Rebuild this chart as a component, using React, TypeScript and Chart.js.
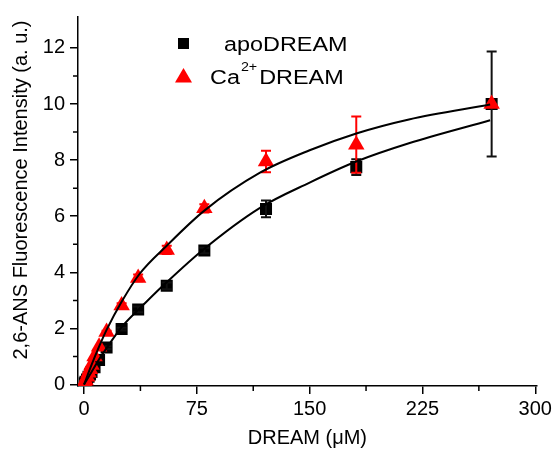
import React, { useEffect, useRef } from "react";
import { Chart, registerables } from "chart.js";

Chart.register(...registerables);

// ---- data ----
const concentrations = [0.5, 1, 2, 3, 4, 5, 7, 10, 15, 25, 36, 55, 80, 121, 181, 271];
const apoValues = [0.05, 0.1, 0.18, 0.28, 0.36, 0.45, 0.62, 0.88, 1.32, 1.98, 2.68, 3.52, 4.78, 6.26, 7.75, 10.0];
const apoErrors = [0, 0, 0, 0, 0, 0, 0, 0, 0.05, 0.05, 0.1, 0.12, 0.1, 0.3, 0.28, 1.87];
const caValues = [0.08, 0.15, 0.28, 0.42, 0.55, 0.7, 1.0, 1.35, 1.87, 2.82, 3.8, 4.8, 6.28, 7.95, 8.55, 10.0];
const caErrors = [0, 0, 0, 0, 0, 0, 0, 0, 0.05, 0.08, 0.12, 0.15, 0.15, 0.38, 1.0, 0];

const apoFitX = [0, 5, 10, 15, 25, 41.5, 54, 79, 117, 150, 181, 216, 270];
const apoFitY = [0, 0.45, 0.9, 1.3, 2.05, 2.95, 3.6, 4.8, 6.3, 7.2, 7.95, 8.6, 9.42];
const caFitX = [0, 5, 10, 15, 25, 37, 55, 80, 117, 150, 181, 216, 270];
const caFitY = [0, 0.7, 1.35, 1.95, 2.95, 3.95, 4.95, 6.2, 7.55, 8.35, 8.95, 9.45, 9.98];

const xTicks = [0, 75, 150, 225, 300];
const xMinorTicks = [37.5, 112.5, 187.5, 262.5];
const yTicks = [0, 2, 4, 6, 8, 10, 12];
const yMinorTicks = [1, 3, 5, 7, 9, 11];

const xTitle = "DREAM (\u03bcM)";
const yTitle = "2,6-ANS Fluorescence Intensity (a. u.)";
const legendApo = "apoDREAM";
const legendCaBase = "Ca";
const legendCaSup = "2+";
const legendCaRest = "DREAM";

const FONT = "'Liberation Sans', Arial, sans-serif";
const RED = "#ff0000";

const toPts = (xs: number[], ys: number[]) => xs.map((x, i) => ({ x, y: ys[i] }));

const errorBarPlugin = {
  id: "errorBars",
  afterDatasetDraw(chart: any, args: any) {
    const ds = chart.data.datasets[args.index];
    if (!ds.errors) return;
    const { ctx, scales, chartArea } = chart;
    ctx.save();
    ctx.beginPath();
    ctx.rect(chartArea.left, chartArea.top - 5, chartArea.right - chartArea.left + 10, chartArea.bottom - chartArea.top + 5);
    ctx.clip();
    ctx.strokeStyle = ds.errColor;
    ctx.lineWidth = 2;
    ds.data.forEach((p: any, i: number) => {
      const e = ds.errors[i];
      if (!e) return;
      const px = scales.x.getPixelForValue(p.x);
      const top = scales.y.getPixelForValue(p.y + e);
      const bot = scales.y.getPixelForValue(p.y - e);
      ctx.beginPath();
      ctx.moveTo(px, top);
      ctx.lineTo(px, bot);
      ctx.moveTo(px - 5, top);
      ctx.lineTo(px + 5, top);
      ctx.moveTo(px - 5, bot);
      ctx.lineTo(px + 5, bot);
      ctx.stroke();
    });
    ctx.restore();
  },
};

const minorTickPlugin = {
  id: "minorTicks",
  afterDraw(chart: any) {
    const { ctx, scales } = chart;
    const xs = scales.x;
    const ys = scales.y;
    ctx.save();
    ctx.strokeStyle = "#000";
    ctx.lineWidth = 1.5;
    ctx.beginPath();
    xMinorTicks.forEach((v) => {
      const px = xs.getPixelForValue(v);
      ctx.moveTo(px, xs.top);
      ctx.lineTo(px, xs.top + 5);
    });
    yMinorTicks.forEach((v) => {
      const py = ys.getPixelForValue(v);
      ctx.moveTo(ys.right, py);
      ctx.lineTo(ys.right - 5, py);
    });
    ctx.stroke();
    ctx.restore();
  },
};

const textPlugin = {
  id: "customText",
  afterDraw(chart: any) {
    const { ctx } = chart;
    ctx.save();
    const drawText = (t: string, x: number, y: number, size: number, sx: number) => {
      ctx.save();
      ctx.translate(x, y);
      ctx.scale(sx, 1);
      ctx.font = `${size}px ${FONT}`;
      ctx.fillStyle = "#000";
      ctx.textBaseline = "alphabetic";
      ctx.textAlign = "left";
      ctx.fillText(t, 0, 0);
      const w = ctx.measureText(t).width * sx;
      ctx.restore();
      return w;
    };
    // y-axis title
    ctx.save();
    ctx.translate(21, 190);
    ctx.rotate(-Math.PI / 2);
    ctx.font = `20px ${FONT}`;
    ctx.fillStyle = "#000";
    ctx.textAlign = "center";
    ctx.textBaseline = "middle";
    ctx.fillText(yTitle, 0, 0);
    ctx.restore();
    // square marker
    ctx.fillStyle = "#000";
    ctx.fillRect(178, 38, 11, 11);
    drawText(legendApo, 224, 51, 20, 1.17);
    // triangle marker
    ctx.fillStyle = RED;
    ctx.beginPath();
    ctx.moveTo(183.5, 68);
    ctx.lineTo(192, 82.5);
    ctx.lineTo(175, 82.5);
    ctx.closePath();
    ctx.fill();
    let x = 210;
    x += drawText(legendCaBase, x, 84, 20, 1.17);
    x += 1;
    const w = drawText(legendCaSup, x, 71, 13, 1.1);
    x += w + 2;
    drawText(legendCaRest, x, 84, 20, 1.17);
    ctx.restore();
  },
};

export default function App() {
  const canvasRef = useRef<HTMLCanvasElement | null>(null);

  useEffect(() => {
    if (!canvasRef.current) return;
    const chart = new Chart(canvasRef.current, {
      type: "scatter",
      data: {
        datasets: [
          {
            label: "apoDREAM fit",
            data: toPts(apoFitX, apoFitY),
            showLine: true,
            pointRadius: 0,
            borderColor: "#000",
            borderWidth: 2,
            cubicInterpolationMode: "monotone",
            order: 0,
          } as any,
          {
            label: "Ca2+DREAM fit",
            data: toPts(caFitX, caFitY),
            showLine: true,
            pointRadius: 0,
            borderColor: "#000",
            borderWidth: 2,
            cubicInterpolationMode: "monotone",
            order: 0,
          } as any,
          {
            label: "Ca2+DREAM",
            data: toPts(concentrations, caValues),
            pointStyle: "triangle",
            pointRadius: 9.5,
            backgroundColor: RED,
            borderColor: RED,
            borderWidth: 0,
            order: 1,
            errors: caErrors,
            errColor: RED,
          } as any,
          {
            label: "apoDREAM",
            data: toPts(concentrations, apoValues),
            pointStyle: "rect",
            pointRadius: 8.5,
            backgroundColor: "#000",
            borderColor: "#000",
            borderWidth: 0,
            order: 2,
            errors: apoErrors,
            errColor: "#111",
          } as any,
        ],
      },
      options: {
        responsive: false,
        animation: false,
        events: [],
        layout: { padding: { top: 12, right: 16, left: 0, bottom: 0 } },
        plugins: {
          legend: { display: false },
          tooltip: { enabled: false },
        },
        scales: {
          x: {
            type: "linear",
            min: -4,
            max: 301,
            afterBuildTicks: (s: any) => {
              s.ticks = xTicks.map((v) => ({ value: v }));
            },
            afterFit: (s: any) => {
              s.height = 64;
            },
            ticks: {
              color: "#000",
              font: { family: FONT, size: 20 },
              padding: 3,
              maxRotation: 0,
              autoSkip: false,
            },
            grid: {
              drawOnChartArea: false,
              drawTicks: true,
              tickLength: 8,
              color: "#000",
              lineWidth: 1.5,
            },
            border: { display: true, color: "#000", width: 1.5 },
            title: {
              display: true,
              text: xTitle,
              color: "#000",
              font: { family: FONT, size: 20 },
              padding: { top: 0, bottom: 0 },
            },
          },
          y: {
            type: "linear",
            min: -0.05,
            max: 13.1,
            afterBuildTicks: (s: any) => {
              s.ticks = yTicks.map((v) => ({ value: v }));
            },
            afterFit: (s: any) => {
              s.width = 78;
            },
            ticks: {
              color: "#000",
              font: { family: FONT, size: 20 },
              padding: 5,
              autoSkip: false,
            },
            grid: {
              drawOnChartArea: false,
              drawTicks: true,
              tickLength: 8,
              color: "#000",
              lineWidth: 1.5,
            },
            border: { display: true, color: "#000", width: 1.5 },
            title: { display: false },
          },
        },
      } as any,
      plugins: [errorBarPlugin, minorTickPlugin, textPlugin],
    });
    return () => chart.destroy();
  }, []);

  return (
    <div style={{ position: "fixed", left: 0, top: 0, width: 555, height: 450, background: "#fff" }}>
      <canvas ref={canvasRef} width={555} height={450} />
    </div>
  );
}
